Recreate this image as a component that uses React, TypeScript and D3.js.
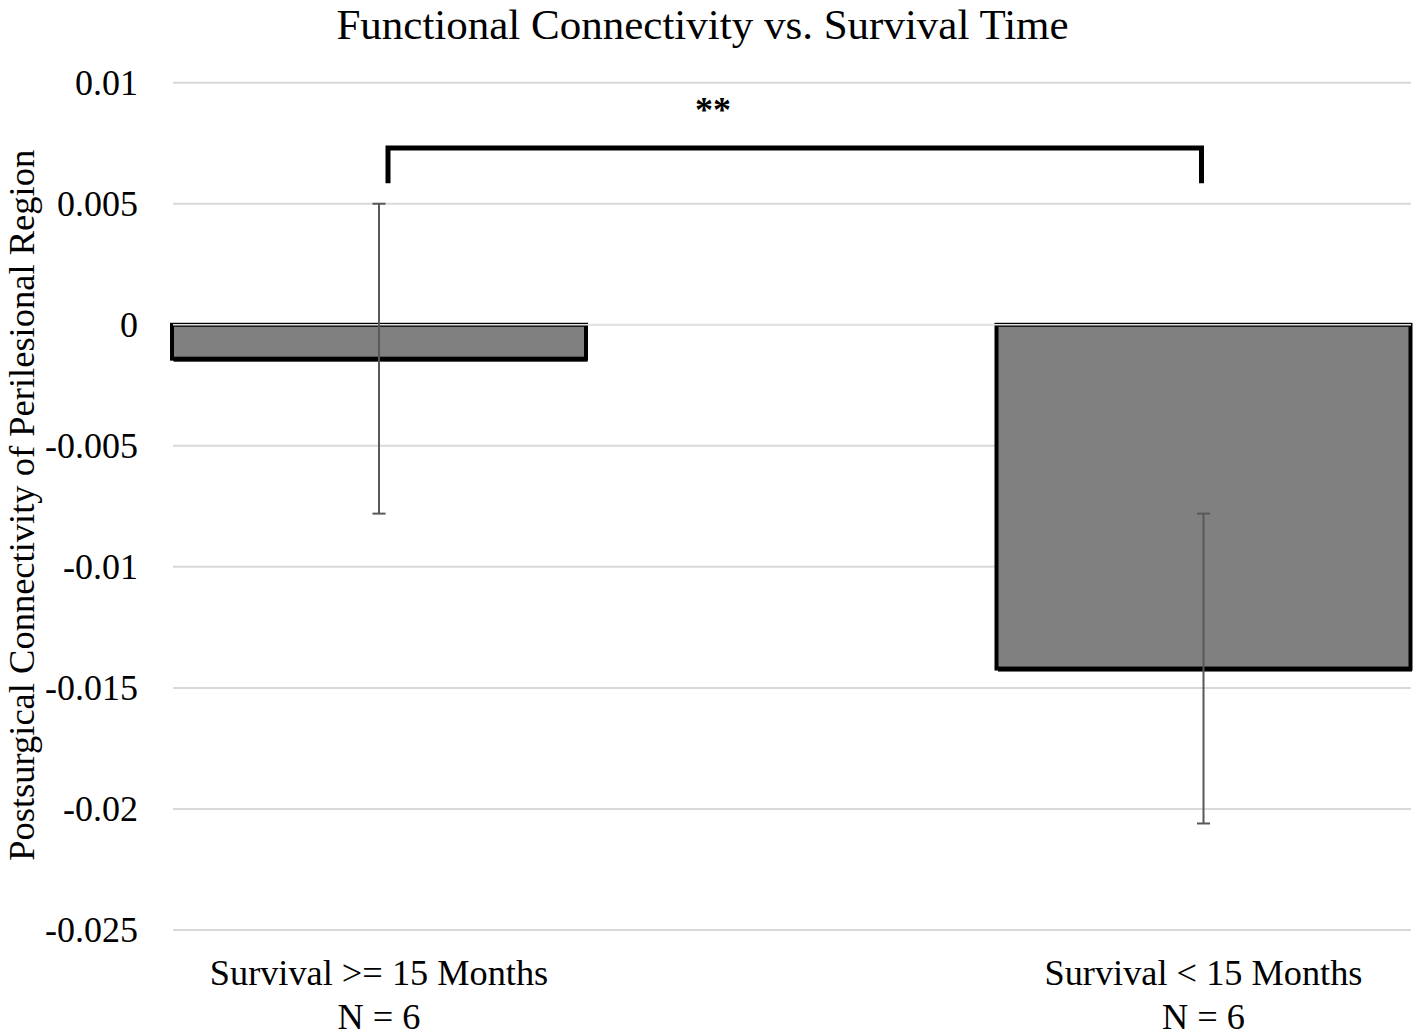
import React from 'react';
import * as d3 from 'd3';

// chart data
const categories = ['Survival >= 15 Months', 'Survival < 15 Months'];
const groupSizes = ['N = 6', 'N = 6'];
const means = [-0.0014, -0.0142];
const errors = [0.0064, 0.0064];
const yTicks = [0.01, 0.005, 0, -0.005, -0.01, -0.015, -0.02, -0.025];
const yTickLabels = ['0.01', '0.005', '0', '-0.005', '-0.01', '-0.015', '-0.02', '-0.025'];
const bracketLevels = [0.0073, 0.00585]; // top of bracket, end of legs
const significance = '**';

const W = 1418;
const H = 1036;
const FONT = '"Liberation Serif", "Times New Roman", Times, serif';

const App: React.FC = () => {
  const plot = { left: 173, right: 1411, top: 82.7, bottom: 930 };
  const barWidth = 414;

  const y = d3.scaleLinear().domain([-0.025, 0.01]).range([plot.bottom, plot.top]);
  const x = d3.scalePoint<string>().domain(categories).range([379, 1203.5]);

  const y0 = y(0);
  const capHalf = 6.5;

  const xa = x(categories[0]) as number;
  const xb = x(categories[1]) as number;
  const bx1 = xa + 9;
  const bx2 = xb - 2;
  const bracketPath = d3.path();
  bracketPath.moveTo(bx1, y(bracketLevels[1]));
  bracketPath.lineTo(bx1, y(bracketLevels[0]));
  bracketPath.lineTo(bx2, y(bracketLevels[0]));
  bracketPath.lineTo(bx2, y(bracketLevels[1]));
  // the stars sit left of the bracket centre in the original
  const starX = d3.interpolateNumber(xa, xb)(0.405);

  return (
    <svg
      width={W}
      height={H}
      style={{ position: 'absolute', left: 0, top: 0, background: '#fff' }}
      fontFamily={FONT}
    >
      {/* title */}
      <text x={702.5} y={39} textAnchor="middle" fontSize={43} fill="#000">
        Functional Connectivity vs. Survival Time
      </text>

      {/* gridlines */}
      {yTicks.map((t, i) => (
        <line
          key={'g' + i}
          x1={plot.left}
          x2={plot.right}
          y1={y(t)}
          y2={y(t)}
          stroke="#d9d9d9"
          strokeWidth={2}
        />
      ))}

      {/* tick labels */}
      {yTicks.map((t, i) => (
        <text
          key={'t' + i}
          x={138}
          y={y(t)}
          dy="0.33em"
          textAnchor="end"
          fontSize={36}
          fill="#000"
        >
          {yTickLabels[i]}
        </text>
      ))}

      {/* bars with a dark shadow edge */}
      {categories.map((c, i) => {
        const cx = x(c) as number;
        const top = Math.min(y(means[i]), y0);
        const h = Math.abs(y(means[i]) - y0);
        return (
          <g key={'b' + i}>
            <rect x={cx - barWidth / 2 + 1.5} y={top + 3} width={barWidth} height={h} fill="#000" />
            <rect
              x={cx - barWidth / 2}
              y={top}
              width={barWidth}
              height={h}
              fill="#808080"
              stroke="#000"
              strokeWidth={4}
            />
          </g>
        );
      })}

      {/* zero axis line drawn over bars */}
      <line x1={plot.left} x2={plot.right} y1={y0} y2={y0} stroke="#e4e4e4" strokeWidth={1.5} />

      {/* error bars */}
      {categories.map((c, i) => {
        const cx = x(c) as number;
        const hi = y(means[i] + errors[i]);
        const lo = y(means[i] - errors[i]);
        return (
          <g key={'e' + i} stroke="#595959" strokeWidth={2}>
            <line x1={cx} x2={cx} y1={hi} y2={lo} />
            <line x1={cx - capHalf} x2={cx + capHalf} y1={hi} y2={hi} />
            <line x1={cx - capHalf} x2={cx + capHalf} y1={lo} y2={lo} />
          </g>
        );
      })}

      {/* significance bracket */}
      <path d={bracketPath.toString()} fill="none" stroke="#000" strokeWidth={5} strokeLinejoin="miter" />
      <text x={starX} y={122} textAnchor="middle" fontSize={36} fontWeight="bold" fill="#000">
        {significance}
      </text>

      {/* category labels */}
      {categories.map((c, i) => (
        <text key={'c' + i} x={x(c) as number} textAnchor="middle" fontSize={36.3} fill="#000">
          <tspan x={x(c) as number} y={985}>{c}</tspan>
          <tspan x={x(c) as number} y={1029}>{groupSizes[i]}</tspan>
        </text>
      ))}

      {/* y axis title */}
      <text
        transform={`translate(34, ${(plot.top + plot.bottom) / 2 - 1}) rotate(-90)`}
        textAnchor="middle"
        fontSize={36.5}
        fill="#000"
      >
        Postsurgical Connectivity of Perilesional Region
      </text>
    </svg>
  );
};

export default App;
